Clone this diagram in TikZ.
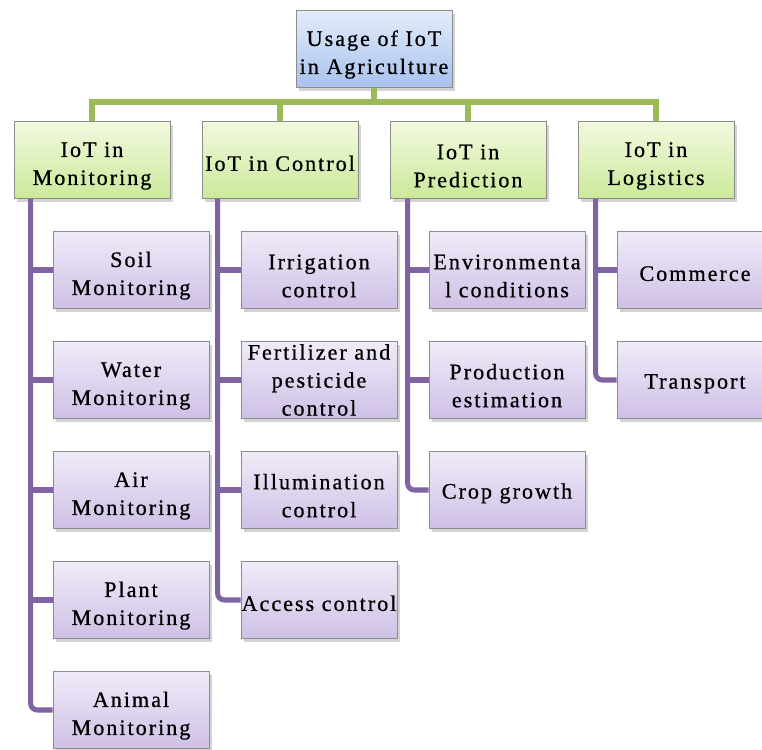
\documentclass[tikz,border=0pt]{standalone}
\usepackage{fontspec}
\setmainfont{Liberation Serif}[LetterSpace=9, FakeBold=0.7]
\usetikzlibrary{shadows,calc}
\definecolor{gline}{HTML}{9BBB59}
\definecolor{pline}{HTML}{8064A2}
\definecolor{btop}{HTML}{E3ECFA}
\definecolor{bbot}{HTML}{A7C2EE}
\definecolor{gtop}{HTML}{F2F9DF}
\definecolor{gbot}{HTML}{CBE99A}
\definecolor{ptop}{HTML}{F0EBF8}
\definecolor{pbot}{HTML}{CFC0E6}
\newcommand\lowr{\rule{0pt}{20pt}}
\newcommand\lowo{\rule{0pt}{16.5pt}}
\tikzset{
  boxbase/.style={draw=black!45, line width=0.6pt, minimum width=117pt, minimum height=57.5pt,
    align=center, inner xsep=0pt, inner ysep=1pt, font=\fontsize{16.6}{21}\selectfont,
    drop shadow={opacity=0.35, shadow xshift=2pt, shadow yshift=-2.5pt}},
  rootbox/.style={boxbase, top color=btop, bottom color=bbot},
  catbox/.style={boxbase, top color=gtop, bottom color=gbot},
  leafbox/.style={boxbase, top color=ptop, bottom color=pbot},
  greenline/.style={draw=gline, line width=3.8pt},
  purpleline/.style={draw=pline, line width=3.8pt},
}
\begin{document}
\begin{tikzpicture}[x=0.75pt,y=-0.75pt]
\useasboundingbox (0,0) rectangle (762,749);
% root
\node[rootbox] (root) at (374,49) {\lowr Usage of IoT\\in Agriculture};
% categories
\node[catbox] (mon) at (92,160) {\lowr IoT in\\Monitoring};
\node[catbox] (ctl) at (280,160) {\lowo IoT in Control};
\node[catbox] (pre) at (468,160) {\lowr IoT in\\Prediction};
\node[catbox] (log) at (656,160) {\lowr IoT in\\Logistics};
\coordinate (bus) at (0,102);
% green connectors
\draw[greenline] (root.south) -- (root.south |- bus);
\draw[greenline] (mon.north) -- (mon.north |- bus) -- (log.north |- bus) -- (log.north);
\draw[greenline] (ctl.north) -- (ctl.north |- bus);
\draw[greenline] (pre.north) -- (pre.north |- bus);
% vertical anchors
\coordinate (monv) at ($(mon.south west)+(17,0)$);
\coordinate (ctlv) at ($(ctl.south west)+(16,0)$);
\coordinate (prev) at ($(pre.south west)+(18,0)$);
\coordinate (logv) at ($(log.south west)+(18,0)$);
% leaves
\node[leafbox] (soil) at (131,270) {\lowr Soil\\Monitoring};
\node[leafbox] (water) at (131,380) {\lowr Water\\Monitoring};
\node[leafbox] (air) at (131,490) {\lowr Air\\Monitoring};
\node[leafbox] (plant) at (131,600) {\lowr Plant\\Monitoring};
\node[leafbox] (animal) at (131,710) {\lowr Animal\\Monitoring};
\node[leafbox] (irr) at (319,270) {\lowr Irrigation\\control};
\node[leafbox] (fert) at (319,380) {Fertilizer and\\pesticide\\control};
\node[leafbox] (illu) at (319,490) {\lowr Illumination\\control};
\node[leafbox] (acc) at (319,600) {\lowo Access control};
\node[leafbox] (env) at (507,270) {\lowr Environmenta\\l conditions};
\node[leafbox] (prod) at (507,380) {\lowr Production\\estimation};
\node[leafbox] (crop) at (507,490) {\lowo Crop growth};
\node[leafbox] (com) at (695,270) {\lowo Commerce};
\node[leafbox] (tra) at (695,380) {\lowo Transport};
% purple connectors
\draw[purpleline] (monv |- soil.west) -- (soil.west);
\draw[purpleline] (monv |- water.west) -- (water.west);
\draw[purpleline] (monv |- air.west) -- (air.west);
\draw[purpleline] (monv |- plant.west) -- (plant.west);
\draw[purpleline, rounded corners=5pt] (monv) |- (animal.west);
\draw[purpleline] (ctlv |- irr.west) -- (irr.west);
\draw[purpleline] (ctlv |- fert.west) -- (fert.west);
\draw[purpleline] (ctlv |- illu.west) -- (illu.west);
\draw[purpleline, rounded corners=5pt] (ctlv) |- (acc.west);
\draw[purpleline] (prev |- env.west) -- (env.west);
\draw[purpleline] (prev |- prod.west) -- (prod.west);
\draw[purpleline, rounded corners=5pt] (prev) |- (crop.west);
\draw[purpleline] (logv |- com.west) -- (com.west);
\draw[purpleline, rounded corners=5pt] (logv) |- (tra.west);
\end{tikzpicture}
\end{document}
